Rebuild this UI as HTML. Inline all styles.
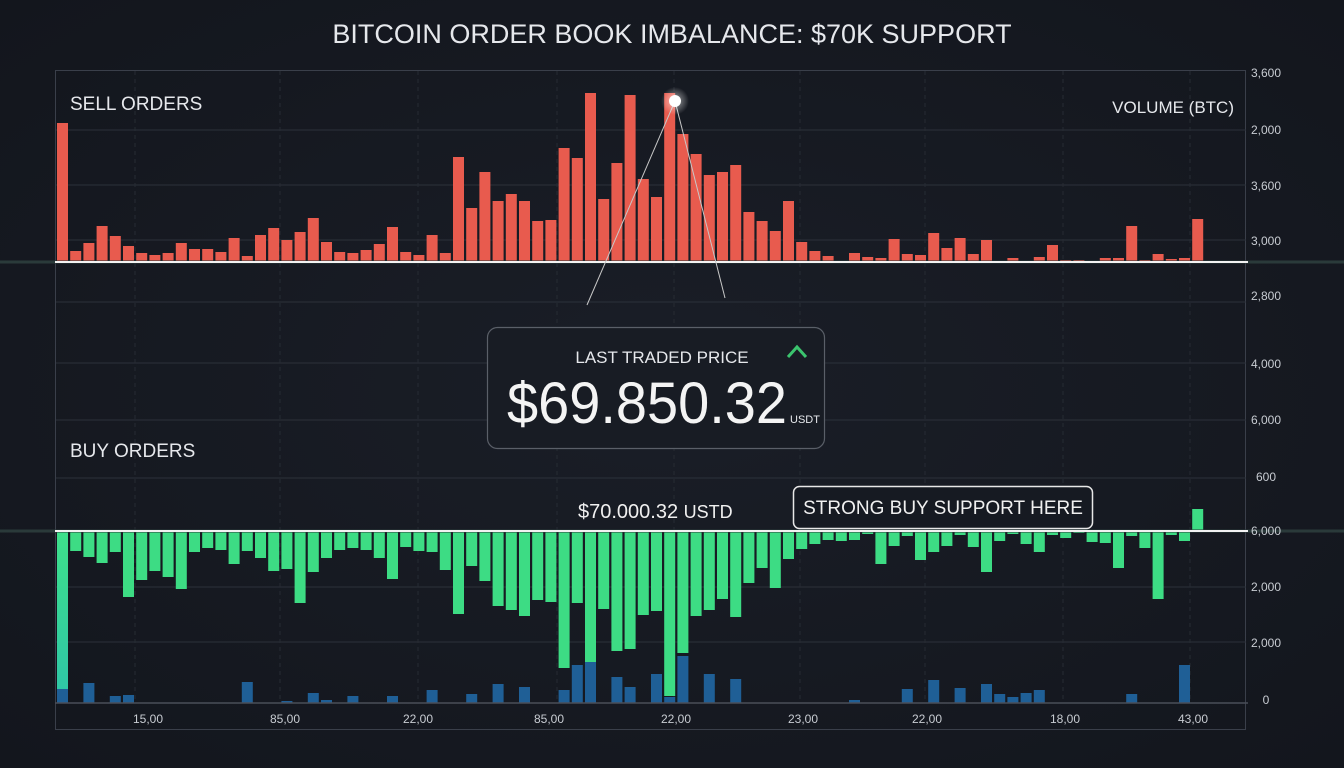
<!DOCTYPE html>
<html><head><meta charset="utf-8">
<style>
html,body{margin:0;padding:0;background:#161a22;}
svg{display:block;}
text{font-family:"Liberation Sans",sans-serif;}
</style></head>
<body>
<svg id="c" width="1344" height="768" viewBox="0 0 1344 768" xmlns="http://www.w3.org/2000/svg">
<defs>
<radialGradient id="bg" cx="50%" cy="50%" r="70%"><stop offset="0" stop-color="#1a1e27"/><stop offset="1" stop-color="#13161d"/></radialGradient>
<linearGradient id="g1" x1="0" y1="0" x2="0" y2="1"><stop offset="0" stop-color="#3ee08a"/><stop offset="1" stop-color="#2fc7a6"/></linearGradient>
<radialGradient id="dot"><stop offset="0" stop-color="#fff" stop-opacity="0.6"/><stop offset="1" stop-color="#fff" stop-opacity="0"/></radialGradient>
</defs>
<rect width="1344" height="768" fill="url(#bg)"/>
<text x="672" y="43" text-anchor="middle" font-size="27" fill="#e6e8ec">BITCOIN ORDER BOOK IMBALANCE: $70K SUPPORT</text>
<rect x="55.5" y="70.5" width="1190" height="659" fill="none" stroke="#3a3f4a" stroke-width="1"/>
<g id="grid"></g>
<g id="bars"></g>
<line x1="0" y1="262" x2="1344" y2="262" stroke="#2a3a3a" stroke-width="3"/>
<line x1="55" y1="262" x2="1248" y2="262" stroke="#f2f2f2" stroke-width="2"/>
<line x1="0" y1="531" x2="1344" y2="531" stroke="#2a3a3a" stroke-width="3"/>
<line x1="55" y1="531" x2="1248" y2="531" stroke="#f2f2f2" stroke-width="2"/>
<line x1="55" y1="703" x2="1248" y2="703" stroke="#4a4f58" stroke-width="1.5"/>
<text x="70" y="110" font-size="19" fill="#e6e8ec">SELL ORDERS</text>
<text x="1234" y="113" font-size="17" fill="#e6e8ec" text-anchor="end">VOLUME (BTC)</text>
<text x="70" y="457" font-size="19" fill="#e6e8ec">BUY ORDERS</text>
<line x1="675" y1="101" x2="587" y2="305" stroke="#c8c8c8" stroke-width="1"/>
<line x1="675" y1="101" x2="725" y2="298" stroke="#c8c8c8" stroke-width="1"/>
<circle cx="675" cy="101" r="14" fill="url(#dot)"/>
<circle cx="675" cy="101" r="6" fill="#fff"/>
<rect x="487.5" y="327.5" width="337" height="121" rx="10" fill="#181c24" fill-opacity="0.95" stroke="#5a5f68" stroke-width="1.2"/>
<text x="662" y="363" font-size="17" fill="#e6e8ec" text-anchor="middle">LAST TRADED PRICE</text>
<polyline points="788,357 797,347 806,357" fill="none" stroke="#3bc46e" stroke-width="3"/>
<text x="507" y="423" font-size="58" fill="#f4f4f4" textLength="280" lengthAdjust="spacingAndGlyphs">$69.850.32</text>
<text x="790" y="423" font-size="11" fill="#e6e8ec">USDT</text>
<text x="578" y="518" font-size="20" fill="#f0f0f0">$70.000.32 <tspan font-size="18">USTD</tspan></text>
<rect x="793.5" y="486.5" width="299" height="42" rx="6" fill="#161a22" stroke="#e8e8e8" stroke-width="1.5"/>
<text x="943" y="514" font-size="19" fill="#f0f0f0" text-anchor="middle">STRONG BUY SUPPORT HERE</text>
<g id="labels" font-size="12" fill="#c8ccd2"></g>
</svg>
<script>
var NS="http://www.w3.org/2000/svg";
function el(p,t,a,txt){var e=document.createElementNS(NS,t);for(var k in a)e.setAttribute(k,a[k]);if(txt)e.textContent=txt;document.getElementById(p).appendChild(e);return e;}
[130,185,240,302,363,420,478,587,642].forEach(function(y){el("grid","line",{x1:56,x2:1246,y1:y,y2:y,stroke:"#2c313a","stroke-width":1});});
[135,280,418,557,674,800,925,1063,1190].forEach(function(x){el("grid","line",{x1:x,x2:x,y1:71,y2:703,stroke:"#262b33","stroke-width":1,"stroke-dasharray":"4,4"});});
var tops=[123,251,243,226,236,246,253,255,253,243,249,249,252,238,256,235,228,240,232,218,242,252,253,250,244,227,252,255,235,253,157,208,172,201,194,201,221,220,148,158,93,199,163,95,179,197,93,
134,154,175,172,165,212,221,231,201,242,251,256,261,253,257,258,239,254,255,233,248,238,254,240,262,258,262,257,245,260,260,262,258,258,226,260,254,259,258,219];
var bots=[690,551,557,563,552,597,580,571,577,589,552,548,550,564,551,558,571,569,603,572,558,550,548,550,558,579,547,551,552,570,614,566,581,606,610,616,600,602,668,603,662,609,651,649,615,611,696,
653,616,610,599,617,583,568,588,559,549,544,540,541,540,534,564,546,536,560,552,546,535,547,572,541,534,544,552,535,538,533,542,543,568,536,548,599,535,541];
var blue={1:689,3:683,5:696,6:695,15:682,18:701,20:693,21:700,23:696,26:696,29:690,32:694,34:684,36:687,39:690,40:665,41:662,43:677,44:687,46:674,47:697,48:656,50:674,52:679,61:700,65:689,67:680,69:688,71:684,72:694,73:697,74:693,75:690,82:694,86:665};
var P=13.2;
for(var i=0;i<87;i++){
 var x=57+i*P, w=11;
 if(tops[i]<261) el("bars","rect",{x:x,y:tops[i],width:w,height:262-tops[i],fill:"#e85b4e"});
 el("bars","rect",{x:x,y:531,width:w,height:bots[i]-531,fill:i==0?"url(#g1)":"#3ddc84"});
 if(blue[i+1]) el("bars","rect",{x:x,y:blue[i+1],width:w,height:703-blue[i+1],fill:"#1f5f96"});
}
el("bars","rect",{x:57+86*P,y:509,width:11,height:22,fill:"#3ddc84"});
var rl=[["3,600",77],["2,000",134],["3,600",190],["3,000",245],["2,800",300],["4,000",368],["6,000",424],["600",481],["6,000",535],["2,000",591],["2,000",647],["0",704]];
rl.forEach(function(r){el("labels","text",{x:1266,y:r[1],"text-anchor":"middle"},r[0]);});
var xl=[["15,00",148],["85,00",285],["22,00",418],["85,00",549],["22,00",676],["23,00",803],["22,00",927],["18,00",1065],["43,00",1193]];
xl.forEach(function(r){el("labels","text",{x:r[1],y:723,"text-anchor":"middle"},r[0]);});
</script>
</body></html>
